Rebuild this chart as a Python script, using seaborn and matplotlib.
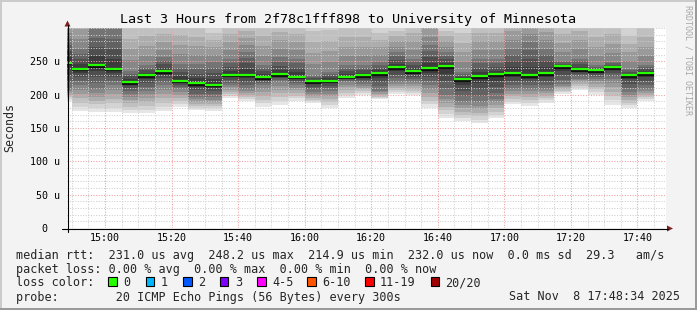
import numpy as np
import pandas as pd
import matplotlib
matplotlib.use("Agg")
import matplotlib.pyplot as plt
import matplotlib.patheffects as pe
from matplotlib.patches import Rectangle, Polygon
from matplotlib.lines import Line2D
from matplotlib.transforms import ScaledTranslation
import seaborn as sns

# ---------------- data ----------------
title = "Last 3 Hours from 2f78c1fff898 to University of Minnesota"
window_start = 14 * 60 + 48 + 34 / 60      # minutes since midnight (14:48:34)
window_len = 180                           # 3 hours
first_full_bar = 14 * 60 + 50              # 14:50
step = 5                                   # minutes per sample
n_full = 35

# per-sample smoke statistics (µs); first entry is the partial sample before 14:50
median = [248.0, 239.0, 244.0, 239.0, 218.7, 228.8, 235.0, 221.0, 217.0, 214.9,
          230.0, 230.0, 225.8, 230.8, 227.0, 220.0, 221.0, 227.0, 229.3, 232.3,
          240.8, 235.2, 239.3, 242.3, 223.3, 227.3, 230.3, 232.3, 229.3, 232.3,
          242.3, 238.3, 236.3, 240.8, 229.3, 232.0]
ping_min = [191.0, 174.8, 173.7, 173.7, 172.8, 172.0, 175.0, 181.0, 176.8, 176.0,
            194.7, 191.0, 182.0, 185.0, 191.0, 187.0, 180.0, 194.7, 200.0, 192.8,
            200.8, 198.8, 179.8, 165.3, 160.3, 157.3, 164.7, 185.7, 183.7, 188.2,
            201.3, 207.7, 200.0, 185.0, 179.8, 190.8]
ping_lowq = [208.8, 213.8, 208.8, 213.8, 201.0, 206.0, 214.0, 209.0, 196.0, 196.0,
             214.0, 209.0, 214.0, 219.0, 214.0, 204.0, 206.0, 219.0, 216.0, 206.0,
             219.0, 219.0, 214.0, 199.0, 189.0, 189.0, 194.0, 209.0, 209.0, 209.0,
             216.0, 224.0, 224.0, 224.0, 204.0, 209.0]
ping_highq = [283.8, 268.8, 298.8, 298.8, 236.0, 244.0, 256.0, 246.0, 246.0, 249.0,
              254.0, 264.0, 244.0, 256.0, 254.0, 229.0, 234.0, 244.0, 244.0, 249.0,
              264.0, 254.0, 274.0, 264.0, 234.0, 254.0, 254.0, 269.0, 279.0, 269.0,
              251.0, 254.0, 244.0, 249.0, 239.0, 244.0]
ping_max = [340, 360, 390, 390, 332, 332, 325, 332, 328, 315,
            328, 328, 332, 332, 328, 328, 328, 328, 328, 315,
            312, 332, 350, 312, 322, 332, 332, 350, 350, 345,
            332, 338, 328, 332, 312, 328]

y_ticks = [0, 50, 100, 150, 200, 250]
y_tick_labels = ["0", "50 u", "100 u", "150 u", "200 u", "250 u"]
x_tick_minutes = [900, 920, 940, 960, 980, 1000, 1020, 1040, 1060]
x_tick_labels = ["15:00", "15:20", "15:40", "16:00", "16:20", "16:40", "17:00", "17:20", "17:40"]

stats_line = "median rtt:  231.0 us avg  248.2 us max  214.9 us min  232.0 us now  0.0 ms sd  29.3   am/s"
loss_line = "packet loss: 0.00 % avg  0.00 % max  0.00 % min  0.00 % now"
probe_line = "probe:        20 ICMP Echo Pings (56 Bytes) every 300s"
date_text = "Sat Nov  8 17:48:34 2025"
loss_labels = ["0", "1", "2", "3", "4-5", "6-10", "11-19", "20/20"]
loss_colors = ["#26ff00", "#00b8ff", "#0059ff", "#7e00ff", "#ff00ff", "#ff5500", "#ff0000", "#a10000"]

# ---------------- style ----------------
sns.set_style("white")
plt.rcParams["font.family"] = ["DejaVu Sans Mono"]

W, H, DPI = 697, 310, 100
fig = plt.figure(figsize=(W / DPI, H / DPI), dpi=DPI, facecolor="#f3f3f3")


def fx(x):
    return x / W


def fy(y):
    return 1 - y / H


L, R, T, B = 67, 666, 28, 228
ax = fig.add_axes([fx(L), fy(B), (R - L) / W, (B - T) / H])
ax.set_facecolor("white")

# sample geometry
starts = np.array([window_start] + [first_full_bar + step * k for k in range(n_full)])
ends = np.array([first_full_bar] + [first_full_bar + step * (k + 1) for k in range(n_full)])
widths = ends - starts

lo = np.array(ping_min)
q1 = np.array(ping_lowq)
md = np.array(median)
q3 = np.array(ping_highq)
hi = np.array(ping_max, dtype=float)

# smoke: nested grey bands from outer (light) to inner (dark)
nb = 10
for k in range(nb):
    if k <= 6:
        lower = lo + (q1 - lo) * k / 6
        upper = hi - (hi - q3) * k / 6
    else:
        lower = q1 + (md - q1) * (k - 6) / 4
        upper = q3 - (q3 - md) * (k - 6) / 4
    g = (230 - 19 * k) / 255
    ax.bar(starts, upper - lower, bottom=lower, width=widths, align="edge",
           color=(g, g, g), linewidth=0, zorder=1)

# median segments via seaborn
idx = np.arange(len(md))
df = pd.DataFrame({"t": np.r_[starts, ends], "rtt": np.r_[md, md], "bar": np.r_[idx, idx]})
sns.lineplot(data=df, x="t", y="rtt", units="bar", estimator=None, color="#26ff00",
             lw=1.6, ax=ax, zorder=4, legend=False)
for ln in ax.lines:
    ln.set_solid_capstyle("butt")
    ln.set_path_effects([pe.SimpleLineShadow(offset=(0, -1.1), shadow_color="#111111", alpha=1.0),
                         pe.Normal()])

ax.set_xlim(window_start, window_start + window_len)
ax.set_ylim(0, 300)
ax.set_xlabel("")
ax.set_ylabel("")

ax.set_xticks(x_tick_minutes)
ax.set_xticklabels(x_tick_labels)
ax.set_xticks(np.arange(890, 1066, 5), minor=True)
ax.set_yticks(y_ticks)
ax.set_yticklabels(y_tick_labels)
ax.set_yticks(np.arange(0, 301, 10), minor=True)

ax.set_axisbelow(False)
ax.grid(which="minor", color="#cfcfcf", ls=(0, (1, 1.5)), lw=0.75, zorder=2)
ax.grid(which="major", color="#ef9f9f", ls=(0, (1, 1.5)), lw=0.75, zorder=2.1)

ax.tick_params(axis="both", which="major", direction="out", length=2, width=0.7,
               color="#333333", labelsize=7.2, labelcolor="#000000")
ax.tick_params(axis="both", which="minor", direction="out", length=1.5, width=0.6,
               color="#555555")
ax.tick_params(axis="x", which="major", pad=1.3)
ax.tick_params(axis="y", which="major", pad=3.4)
for s in ax.spines.values():
    s.set_visible(False)

# "0" label sits two character cells further left (rrdtool unit padding)
for lab in ax.get_yticklabels():
    if lab.get_text() == "0":
        lab.set_transform(lab.get_transform() + ScaledTranslation(-11.8 / DPI, 0, fig.dpi_scale_trans))

# axis lines with arrows
fig.add_artist(Line2D([fx(62), fx(668)], [fy(228.5), fy(228.5)], color="#000000", lw=0.8))
fig.add_artist(Line2D([fx(67.5), fx(67.5)], [fy(232), fy(25)], color="#000000", lw=0.8))
fig.add_artist(Polygon([(fx(667), fy(225.5)), (fx(667), fy(231.5)), (fx(673), fy(228.5))],
                       closed=True, color="#7f1f1f", lw=0))
fig.add_artist(Polygon([(fx(64.5), fy(26.5)), (fx(70.5), fy(26.5)), (fx(67.5), fy(20.5))],
                       closed=True, color="#7f1f1f", lw=0))

# texts
fig.text(fx(348), fy(19), title, ha="center", va="center", fontsize=9.6, color="#000000")
fig.text(fx(10), fy(128), "Seconds", ha="center", va="center", rotation=90, fontsize=8.4)
fig.text(fx(688), fy(5), "RRDTOOL / TOBI OETIKER", ha="center", va="top", rotation=270,
         fontsize=6, color="#a8a8a8")

legend_fs = 8.5
fig.text(fx(16), fy(258.5), stats_line, ha="left", va="baseline", fontsize=legend_fs)
fig.text(fx(16), fy(272.5), loss_line, ha="left", va="baseline", fontsize=legend_fs)
fig.text(fx(16), fy(286.5), "loss color:", ha="left", va="baseline", fontsize=legend_fs)
fig.text(fx(16), fy(300.5), probe_line, ha="left", va="baseline", fontsize=legend_fs)
fig.text(fx(680), fy(300.5), date_text, ha="right", va="baseline", fontsize=legend_fs)

box_x = [108, 145.7, 183, 220, 257.3, 307, 365, 430.5]
for bx, lab, col in zip(box_x, loss_labels, loss_colors):
    fig.add_artist(Rectangle((fx(bx), fy(286)), 8.5 / W, 9 / H, facecolor=col,
                             edgecolor="#000000", lw=0.8))
    fig.text(fx(bx + 15), fy(286.5), lab, ha="left", va="baseline", fontsize=legend_fs)

# 3-D style frame
fig.add_artist(Rectangle((0, 1 - 2 / H), 1, 2 / H, facecolor="#cbcbcb", lw=0))
fig.add_artist(Rectangle((0, 0), 2 / W, 1, facecolor="#cbcbcb", lw=0))
fig.add_artist(Rectangle((1 - 2 / W, 0), 2 / W, 1, facecolor="#9a9a9a", lw=0))
fig.add_artist(Rectangle((0, 0), 1, 2 / H, facecolor="#9a9a9a", lw=0))

fig.savefig("out.png", dpi=DPI, facecolor=fig.get_facecolor())
